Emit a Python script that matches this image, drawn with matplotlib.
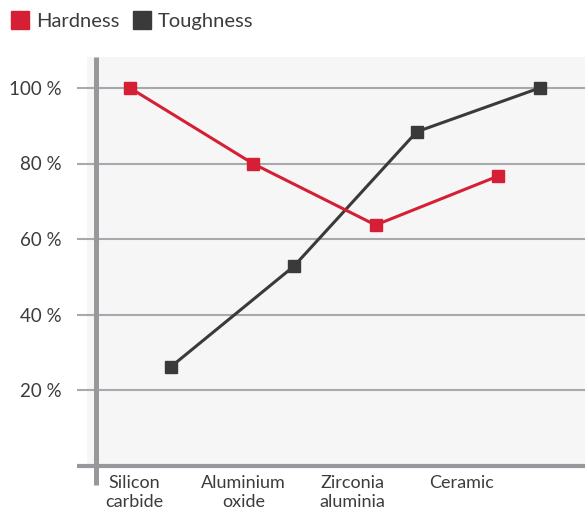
import matplotlib
matplotlib.use("Agg")
import matplotlib.pyplot as plt
from matplotlib.lines import Line2D

# ---------------------------------------------------------------------------
# Data.
# ---------------------------------------------------------------------------
categories = ["Silicon\ncarbide", "Aluminium\noxide", "Zirconia\naluminia", "Ceramic"]
hardness = [100, 80, 63.7, 76.7]
toughness = [26.2, 52.8, 88.4, 100]
y_ticks = [20, 40, 60, 80, 100]
y_tick_labels = [f"{v} %" for v in y_ticks]

RED = "#d41f35"
DARK = "#3a3a3a"
GRID = "#a9a8ac"
AXIS = "#98989c"
TEXT = "#3c3c3c"
BG = "#f6f6f6"

plt.rcParams["font.family"] = ["Lato", "DejaVu Sans"]

W, H = 585, 512
fig = plt.figure(figsize=(W / 100, H / 100), dpi=100)

# plot area in pixels: left 87, right 585, top 57, bottom 465.5
l, r, t, b = 87, 585, 57, 465.5
rect = [l / W, 1 - b / H, (r - l) / W, (b - t) / H]
ax = fig.add_axes(rect)
ax.set_facecolor(BG)
for s in ax.spines.values():
    s.set_visible(False)

ax.set_ylim(0, (b - t) / 3.775)
# category label axis: label i centred at pixel 134 + 109.3 i
ax.set_xlim((l - 134) / 109.3, (r - 134) / 109.3)
ax.set_xticks(range(len(categories)))
ax.set_xticklabels(categories, fontsize=13, color=TEXT, linespacing=1.2)
ax.set_yticks(y_ticks)
ax.set_yticklabels(y_tick_labels, fontsize=13.5, color=TEXT)
ax.tick_params(length=0)
ax.tick_params(axis="x", pad=7)
ax.tick_params(axis="y", pad=18)

# grid lines (extend a little left of the plot area)
ax.hlines(y_ticks, -0.02, 1, transform=ax.get_yaxis_transform(),
          colors=GRID, lw=1.5, clip_on=False, zorder=1)
# axis lines
ax.plot([-0.02, 1], [0, 0], transform=ax.transAxes, color=AXIS, lw=3,
        clip_on=False, solid_capstyle="butt", zorder=2)
ax.plot([0.019, 0.019], [1, -0.048], transform=ax.transAxes, color=AXIS, lw=3.6,
        clip_on=False, solid_capstyle="butt", zorder=2)

# series axis: point i at pixel 130 + 122.8 i, toughness shifted right
ax2 = ax.twiny()
ax2.set_xlim((l - 130) / 122.8, (r - 130) / 122.8)
ax2.set_ylim(ax.get_ylim())
ax2.axis("off")
xs = list(range(len(hardness)))
shift = 0.335
ax2.plot(xs, hardness, color=RED, lw=2.2, marker="s", ms=8, zorder=4)
ax2.plot([x + shift for x in xs], toughness, color=DARK, lw=2.2, marker="s",
         ms=8, zorder=3)

handles = [
    Line2D([], [], ls="none", marker="s", ms=13, color=RED),
    Line2D([], [], ls="none", marker="s", ms=13, color=DARK),
]
fig.legend(handles, ["Hardness", "Toughness"], loc="upper left",
           bbox_to_anchor=(-0.007, 1.002), ncol=2, frameon=False, fontsize=14.5,
           handlelength=1.0, handletextpad=0.3, columnspacing=0.6,
           labelcolor=TEXT, borderaxespad=0.3)

fig.savefig("out.png", dpi=100)
